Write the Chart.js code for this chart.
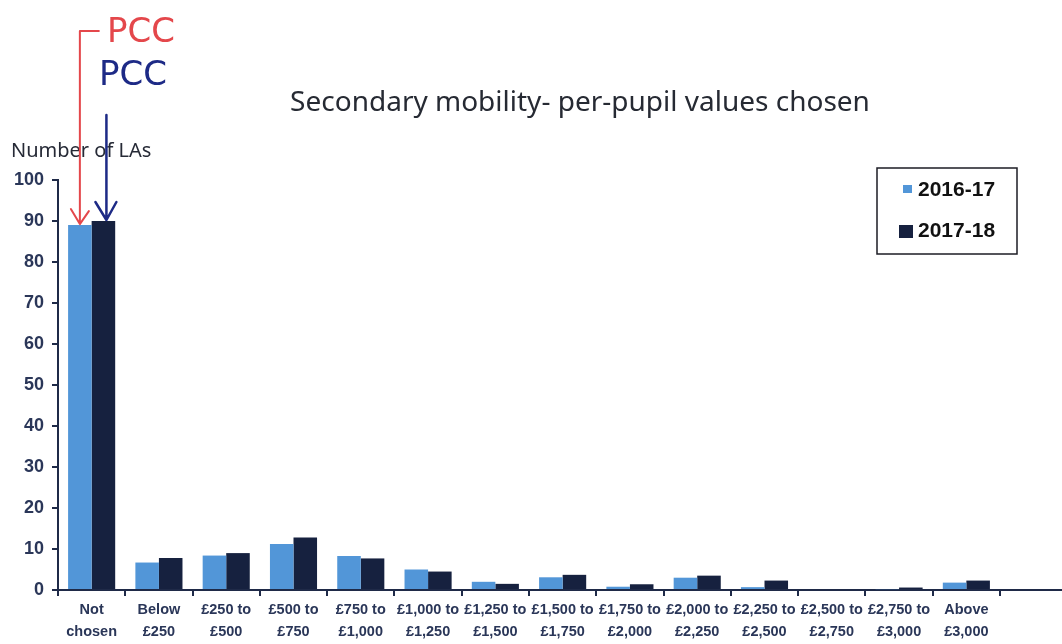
<!DOCTYPE html>
<html>
<head>
<meta charset="utf-8">
<script src="https://cdn.jsdelivr.net/npm/chart.js@4.4.0/dist/chart.umd.min.js"></script>
<style>
  body { margin: 0; background: #fff; }
  #wrap { width: 1062px; height: 644px; }
</style>
</head>
<body>
<div id="wrap"><canvas id="mobilityChart" width="1062" height="644"></canvas></div>
<script>
// categories and values
const categories = [
    ['Not', 'chosen'], ['Below', '£250'], ['£250 to', '£500'], ['£500 to', '£750'],
    ['£750 to', '£1,000'], ['£1,000 to', '£1,250'], ['£1,250 to', '£1,500'], ['£1,500 to', '£1,750'],
    ['£1,750 to', '£2,000'], ['£2,000 to', '£2,250'], ['£2,250 to', '£2,500'], ['£2,500 to', '£2,750'],
    ['£2,750 to', '£3,000'], ['Above', '£3,000']
];
const values201617 = [89, 6.7, 8.4, 11.2, 8.3, 5, 2, 3.1, 0.8, 3, 0.7, 0, 0.2, 1.8];
const values201718 = [90, 7.8, 9, 12.8, 7.7, 4.5, 1.5, 3.7, 1.4, 3.5, 2.3, 0, 0.6, 2.3];
const seriesLabels = ['2016-17', '2017-18'];
const yTicks = { min: 0, max: 100, step: 10 };

const chartTitle = 'Secondary mobility- per-pupil values chosen';
const yTitle = 'Number of LAs';

const lightBlue = '#5296d8';
const navy = '#16213f';
const axisColor = '#1f2a48';
const labelColor = '#2a3658';

// title, axis title, legend box, extended x axis and the handwritten PCC notes
const overlayPlugin = {
    id: 'overlay',
    afterDraw(chart) {
        const ctx = chart.ctx;
        const area = chart.chartArea;
        const y0 = chart.scales.y.getPixelForValue(0);
        ctx.save();

        // x axis keeps running to the edge of the page
        ctx.strokeStyle = axisColor;
        ctx.lineWidth = 2;
        ctx.beginPath();
        ctx.moveTo(area.right, y0);
        ctx.lineTo(chart.width, y0);
        ctx.stroke();

        // title
        ctx.fillStyle = '#262a33';
        ctx.font = '28px "Noto Sans"';
        ctx.textAlign = 'center';
        ctx.textBaseline = 'middle';
        ctx.fillText(chartTitle, 580, 103);

        // y axis title
        ctx.fillStyle = '#262a36';
        ctx.font = '20px "Noto Sans"';
        ctx.textAlign = 'left';
        ctx.fillText(yTitle, 11, 151);

        // legend box
        ctx.strokeStyle = '#1c1c24';
        ctx.lineWidth = 1.5;
        ctx.strokeRect(877, 168, 140, 86);
        ctx.font = 'bold 21px "Liberation Sans"';
        const ds = chart.data.datasets;
        ctx.fillStyle = ds[0].backgroundColor;
        ctx.fillRect(903, 185, 9, 8);
        ctx.fillStyle = ds[1].backgroundColor;
        ctx.fillRect(899, 225, 14, 13);
        ctx.fillStyle = '#111';
        ctx.fillText(ds[0].label, 918, 190);
        ctx.fillText(ds[1].label, 918, 231);

        // handwritten arrows onto the "Not chosen" bars
        const light = chart.getDatasetMeta(0).data[0];
        const dark = chart.getDatasetMeta(1).data[0];
        ctx.lineCap = 'round';
        ctx.lineJoin = 'round';

        ctx.strokeStyle = '#e4474b';
        ctx.lineWidth = 2;
        ctx.beginPath();
        ctx.moveTo(light.x + 19, 31);
        ctx.lineTo(light.x, 31);
        ctx.lineTo(light.x, light.y - 1);
        ctx.moveTo(light.x - 9, light.y - 16);
        ctx.lineTo(light.x, light.y - 1);
        ctx.lineTo(light.x + 9, light.y - 14);
        ctx.stroke();
        ctx.fillStyle = '#e4474b';
        ctx.font = '34px "DejaVu Sans"';
        ctx.textBaseline = 'alphabetic';
        ctx.fillText('PCC', 107, 42);

        ctx.strokeStyle = '#1d2a86';
        ctx.lineWidth = 2.5;
        ctx.beginPath();
        ctx.moveTo(dark.x + 3, 115);
        ctx.lineTo(dark.x + 3, dark.y - 1);
        ctx.moveTo(dark.x - 8, dark.y - 19);
        ctx.lineTo(dark.x + 3, dark.y - 1);
        ctx.lineTo(dark.x + 13, dark.y - 19);
        ctx.stroke();
        ctx.fillStyle = '#1d2a86';
        ctx.fillText('PCC', 99, 85);

        ctx.restore();
    }
};

new Chart(document.getElementById('mobilityChart'), {
    type: 'bar',
    data: {
        labels: categories,
        datasets: [
            { label: seriesLabels[0], data: values201617, backgroundColor: lightBlue, categoryPercentage: 0.7, barPercentage: 1.0 },
            { label: seriesLabels[1], data: values201718, backgroundColor: navy, categoryPercentage: 0.7, barPercentage: 1.0 }
        ]
    },
    options: {
        responsive: false,
        animation: false,
        layout: { padding: { top: 180, right: 62, left: 0, bottom: 0 } },
        plugins: { legend: { display: false }, tooltip: { enabled: false } },
        scales: {
            y: {
                min: yTicks.min,
                max: yTicks.max,
                afterFit: scale => { scale.width = 58; },
                ticks: {
                    stepSize: yTicks.step,
                    color: labelColor,
                    padding: 8,
                    font: { family: '"Liberation Sans"', size: 18, weight: 'bold' }
                },
                grid: { drawOnChartArea: false, drawTicks: true, tickLength: 6, color: axisColor, lineWidth: 2 },
                border: { color: axisColor, width: 2 }
            },
            x: {
                afterFit: scale => { scale.height = 54; },
                ticks: {
                    color: labelColor,
                    padding: 3,
                    maxRotation: 0,
                    autoSkip: false,
                    font: { family: '"Liberation Sans"', size: 14.5, weight: 'bold', lineHeight: 1.5 }
                },
                grid: { drawOnChartArea: false, drawTicks: true, tickLength: 6, color: axisColor, lineWidth: 2 },
                border: { color: axisColor, width: 2 }
            }
        }
    },
    plugins: [overlayPlugin]
});
</script>
</body>
</html>
